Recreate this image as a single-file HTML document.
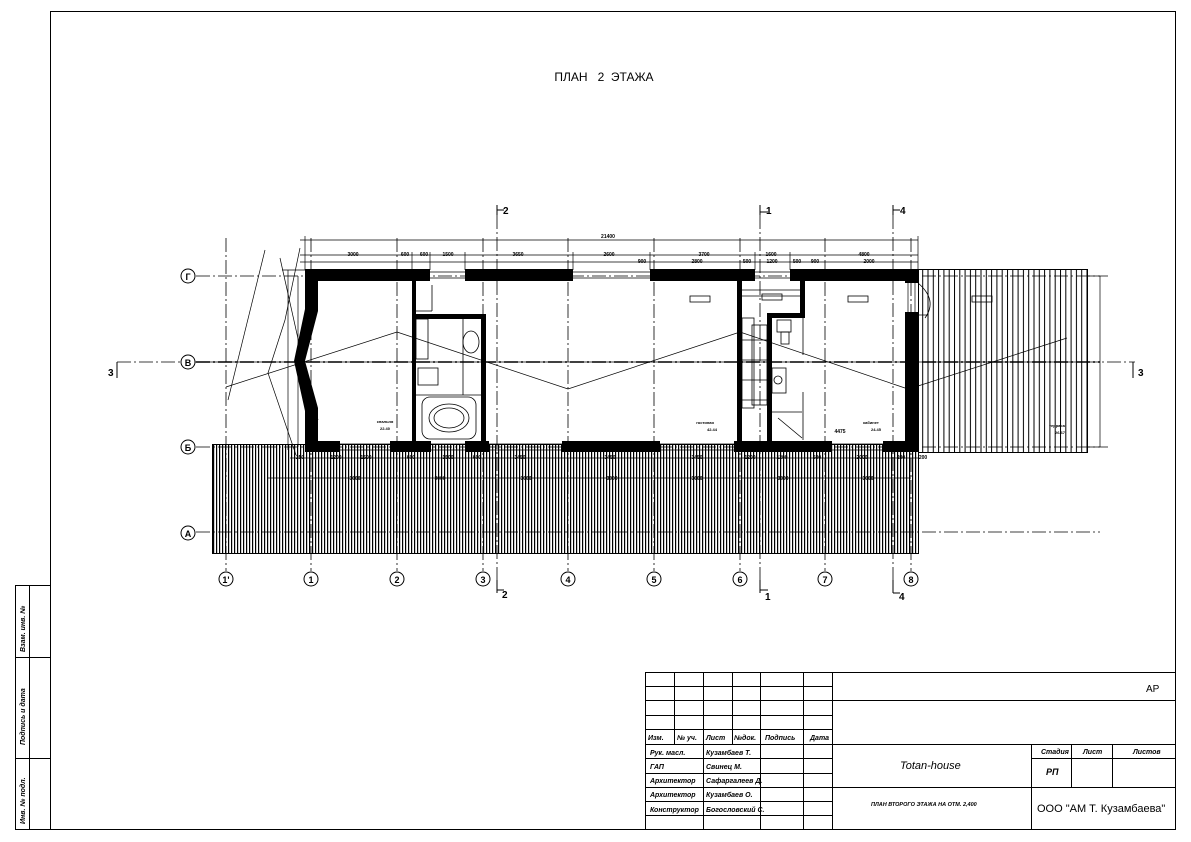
<!DOCTYPE html>
<html><head><meta charset="utf-8"><style>
html,body{margin:0;padding:0;background:#fff;}
svg{display:block;font-family:"Liberation Sans","Noto Sans CJK SC",sans-serif;}
</style></head><body>
<svg width="1191" height="842" viewBox="0 0 1191 842" xmlns="http://www.w3.org/2000/svg">
<defs>
<pattern id="h1" width="3" height="10" patternUnits="userSpaceOnUse"><rect x="0" y="0" width="1.2" height="10" fill="#000"/></pattern>
<pattern id="h2" width="5.3" height="10" patternUnits="userSpaceOnUse"><rect x="0" y="0" width="1" height="10" fill="#000"/></pattern>
</defs>
<rect width="1191" height="842" fill="#fff"/>
<!-- frame -->
<rect x="50.5" y="11.5" width="1125" height="818" fill="none" stroke="#000" stroke-width="1"/>
<!-- left strip -->
<g stroke="#000" fill="none">
<rect x="15.5" y="585.5" width="35" height="244"/>
<line x1="29.5" y1="585" x2="29.5" y2="829"/>
<line x1="15" y1="657.5" x2="50" y2="657.5"/>
<line x1="15" y1="758.5" x2="50" y2="758.5"/>
</g>
<g font-size="7" font-weight="bold" font-style="italic">
<text transform="translate(25,652) rotate(-90)">Взам. инв. №</text>
<text transform="translate(25,745) rotate(-90)">Подпись и дата</text>
<text transform="translate(25,824) rotate(-90)">Инв. № подл.</text>
</g>
<!-- title -->
<text x="604" y="81" font-size="12" text-anchor="middle">ПЛАН&#160;&#160; 2&#160; ЭТАЖА</text>

<!-- hatched deck -->
<rect x="212" y="444" width="706" height="109" fill="url(#h1)"/>
<rect x="212.5" y="444.5" width="706" height="109" fill="none" stroke="#000"/>
<!-- terrace -->
<rect x="918" y="269" width="169" height="183" fill="url(#h2)"/>
<rect x="918.5" y="269.5" width="169" height="183" fill="none" stroke="#000"/>

<!-- axis lines -->
<g stroke="#000" stroke-width="0.8" stroke-dasharray="14,3,2,3" fill="none">
<line x1="196" y1="276" x2="1100" y2="276"/>
<line x1="196" y1="362" x2="1100" y2="362"/>
<line x1="196" y1="447" x2="1100" y2="447"/>
<line x1="196" y1="532" x2="1100" y2="532"/>
<line x1="226" y1="238" x2="226" y2="571"/>
<line x1="311" y1="238" x2="311" y2="571"/>
<line x1="397" y1="238" x2="397" y2="571"/>
<line x1="483" y1="238" x2="483" y2="571"/>
<line x1="568" y1="238" x2="568" y2="571"/>
<line x1="654" y1="238" x2="654" y2="571"/>
<line x1="740" y1="238" x2="740" y2="571"/>
<line x1="825" y1="238" x2="825" y2="571"/>
<line x1="911" y1="238" x2="911" y2="571"/>
<line x1="497" y1="215" x2="497" y2="590"/>
<line x1="760" y1="215" x2="760" y2="590"/>
<line x1="893" y1="215" x2="893" y2="590"/>
<line x1="117" y1="362" x2="1135" y2="362"/>
</g>
<line x1="196" y1="362" x2="1100" y2="362" stroke="#000" stroke-width="1.5" stroke-dasharray="14,3,2,3"/>

<!-- dimension lines top -->
<g stroke="#000" stroke-width="0.7" fill="none">
<line x1="300" y1="240" x2="918" y2="240"/>
<line x1="300" y1="255" x2="918" y2="255"/>
<line x1="300" y1="262" x2="918" y2="262"/>
<line x1="305" y1="236" x2="305" y2="270"/>
<line x1="918" y1="236" x2="918" y2="270"/>
<line x1="430" y1="252" x2="430" y2="270"/>
<line x1="465" y1="252" x2="465" y2="270"/>
<line x1="573" y1="252" x2="573" y2="270"/>
<line x1="650" y1="252" x2="650" y2="270"/>
<line x1="755" y1="252" x2="755" y2="270"/>
<line x1="790" y1="252" x2="790" y2="270"/>
<line x1="412" y1="252" x2="412" y2="270"/>
<!-- bottom dims -->
<line x1="290" y1="458" x2="918" y2="458"/>
<line x1="268" y1="478" x2="911" y2="478"/>
<!-- right dims -->
<line x1="1100" y1="276" x2="1100" y2="447"/>
<line x1="1087" y1="276" x2="1108" y2="276"/>
<line x1="1087" y1="447" x2="1108" y2="447"/>
<!-- left dims -->
<line x1="288" y1="270" x2="288" y2="450"/>
<line x1="298" y1="276" x2="298" y2="447"/>
<line x1="282" y1="270" x2="305" y2="270"/>
<!-- roof lines -->
<polyline points="226,387 397,332 568,389 740,332 905,388"/>
<line x1="918" y1="386" x2="1067" y2="338"/>
<polyline points="300,248 285,320 268,373 296,455"/>
<polyline points="280,258 305,370 318,420"/>
<line x1="265" y1="250" x2="228" y2="400"/>
</g>
<g font-size="5" text-anchor="middle" font-weight="bold">
<text x="608" y="238">21400</text>
<text x="353" y="256">3000</text><text x="405" y="256">600</text><text x="424" y="256">600</text><text x="448" y="256">1500</text>
<text x="518" y="256">3650</text><text x="609" y="256">2600</text><text x="704" y="256">3700</text><text x="771" y="256">1600</text><text x="864" y="256">4800</text>
<text x="642" y="263">900</text><text x="697" y="263">2800</text><text x="747" y="263">500</text><text x="772" y="263">1200</text><text x="797" y="263">500</text><text x="815" y="263">900</text><text x="869" y="263">2000</text>
<text x="355" y="480">3000</text><text x="440" y="480">3000</text><text x="526" y="480">3000</text><text x="612" y="480">3000</text><text x="697" y="480">3000</text><text x="783" y="480">3000</text><text x="868" y="480">3000</text>
<text x="300" y="459">250</text><text x="336" y="459">1200</text><text x="366" y="459">1500</text><text x="411" y="459">600</text><text x="448" y="459">1500</text><text x="477" y="459">600</text><text x="520" y="459">3450</text><text x="610" y="459">3450</text><text x="697" y="459">3450</text><text x="750" y="459">1200</text><text x="782" y="459">1200</text><text x="817" y="459">500</text><text x="862" y="459">2000</text><text x="901" y="459">200</text><text x="923" y="459">200</text>
</g>

<!-- walls -->
<g fill="#000">
<rect x="305" y="269" width="125" height="12"/>
<rect x="465" y="269" width="108" height="12"/>
<rect x="650" y="269" width="105" height="12"/>
<rect x="790" y="269" width="128" height="12"/>
<rect x="905" y="269" width="13" height="14"/>
<rect x="905" y="312" width="13" height="140"/>
<rect x="305" y="441" width="35" height="11"/>
<rect x="390" y="441" width="41" height="11"/>
<rect x="465" y="441" width="24" height="11"/>
<rect x="562" y="441" width="98" height="11"/>
<rect x="734" y="441" width="98" height="11"/>
<rect x="883" y="441" width="35" height="11"/>
<polygon points="305,269 318,269 318,311 305,361 318,408 318,452 305,452 305,411 294,361 305,309"/>
<!-- bath walls -->
<rect x="412" y="281" width="4" height="160"/>
<rect x="412" y="314" width="74" height="5"/>
<rect x="481" y="314" width="5" height="127"/>
<!-- stair walls -->
<rect x="737" y="281" width="5" height="160"/>
<rect x="767" y="313" width="5" height="128"/>
<rect x="767" y="313" width="38" height="5"/>
<rect x="800" y="281" width="5" height="37"/>
</g>
<!-- windows thin lines -->
<g stroke="#000" stroke-width="0.7">
<line x1="430" y1="272" x2="465" y2="272"/><line x1="430" y1="278" x2="465" y2="278"/>
<line x1="573" y1="272" x2="650" y2="272"/><line x1="573" y1="278" x2="650" y2="278"/>
<line x1="755" y1="272" x2="790" y2="272"/><line x1="755" y1="278" x2="790" y2="278"/>
<line x1="340" y1="444" x2="390" y2="444"/><line x1="340" y1="450" x2="390" y2="450"/>
<line x1="431" y1="444" x2="465" y2="444"/><line x1="431" y1="450" x2="465" y2="450"/>
<line x1="489" y1="444" x2="562" y2="444"/><line x1="489" y1="450" x2="562" y2="450"/>
<line x1="660" y1="444" x2="734" y2="444"/><line x1="660" y1="450" x2="734" y2="450"/>
<line x1="832" y1="444" x2="883" y2="444"/><line x1="832" y1="450" x2="883" y2="450"/>
<line x1="908" y1="283" x2="908" y2="312"/><line x1="915" y1="283" x2="915" y2="312"/>
</g>
<!-- interior fixtures -->
<g stroke="#000" stroke-width="0.8" fill="none">
<rect x="416" y="319" width="12" height="40"/>
<line x1="416" y1="395" x2="481" y2="395"/>
<line x1="463" y1="319" x2="463" y2="395"/>
<ellipse cx="471" cy="342" rx="8" ry="11"/>
<rect x="418" y="368" width="20" height="17"/>
<rect x="422" y="397" width="54" height="42" rx="8"/>
<ellipse cx="449" cy="418" rx="20" ry="14"/>
<ellipse cx="449" cy="418" rx="15" ry="10"/>
<line x1="416" y1="311" x2="432" y2="311"/><line x1="432" y1="285" x2="432" y2="311"/>
<!-- stairs -->
<rect x="742" y="318" width="12" height="90"/>
<rect x="752" y="325" width="15" height="80"/>
<line x1="742" y1="340" x2="767" y2="340"/><line x1="742" y1="360" x2="767" y2="360"/><line x1="742" y1="380" x2="767" y2="380"/><line x1="742" y1="400" x2="767" y2="400"/>
<rect x="777" y="320" width="14" height="12"/><rect x="781" y="332" width="8" height="12"/>
<rect x="772" y="368" width="14" height="25"/>
<circle cx="778" cy="380" r="4"/>
<line x1="772" y1="412" x2="802" y2="412"/>
<line x1="778" y1="418" x2="802" y2="438"/>
<line x1="803" y1="318" x2="803" y2="355"/>
<line x1="803" y1="392" x2="803" y2="440"/>
<line x1="742" y1="290" x2="800" y2="290"/><line x1="742" y1="296" x2="800" y2="296"/>
<line x1="905" y1="315" x2="928" y2="315"/>
<path d="M918,283 Q938,300 925,318"/>
</g>
<!-- level marks -->
<g stroke="#000" stroke-width="0.8" fill="none">
<rect x="690" y="296" width="20" height="6"/>
<rect x="762" y="294" width="20" height="6"/>
<rect x="848" y="296" width="20" height="6"/>
<rect x="972" y="296" width="20" height="6"/>
</g>
<g font-size="4" font-weight="bold" text-anchor="middle">
<text x="385" y="423">спальня</text><text x="385" y="430">22.40</text>
<text x="705" y="424">гостиная</text><text x="712" y="431">42.44</text>
<text x="871" y="424">кабинет</text><text x="876" y="431">24.45</text>
<text x="1057" y="427">терраса</text><text x="1060" y="434">26.67</text>
<text x="840" y="433" font-size="5">4475</text>
</g>
<!-- section marks -->
<g stroke="#000" stroke-width="1" fill="none">
<line x1="497" y1="205" x2="497" y2="215"/><line x1="497" y1="210" x2="504" y2="210"/>
<line x1="760" y1="205" x2="760" y2="215"/><line x1="760" y1="212" x2="768" y2="212"/>
<line x1="893" y1="205" x2="893" y2="215"/><line x1="893" y1="210" x2="900" y2="210"/>
<line x1="497" y1="580" x2="497" y2="593"/><line x1="497" y1="590" x2="504" y2="590"/>
<line x1="760" y1="580" x2="760" y2="593"/><line x1="760" y1="590" x2="768" y2="590"/>
<line x1="893" y1="580" x2="893" y2="593"/><line x1="893" y1="593" x2="900" y2="593"/>
<line x1="117" y1="362" x2="117" y2="378"/><line x1="1133" y1="362" x2="1133" y2="378"/>
</g>
<g font-size="10" font-weight="bold">
<text x="503" y="214">2</text><text x="766" y="214">1</text><text x="900" y="214">4</text>
<text x="502" y="598">2</text><text x="765" y="600">1</text><text x="899" y="600">4</text>
<text x="108" y="376">3</text><text x="1138" y="376">3</text>
</g>
<!-- axis bubbles -->
<g stroke="#000" stroke-width="1" fill="#fff">
<circle cx="188" cy="276" r="7"/><circle cx="188" cy="362" r="7"/><circle cx="188" cy="447" r="7"/><circle cx="188" cy="533" r="7"/>
<circle cx="226" cy="579" r="7"/><circle cx="311" cy="579" r="7"/><circle cx="397" cy="579" r="7"/><circle cx="483" cy="579" r="7"/><circle cx="568" cy="579" r="7"/><circle cx="654" cy="579" r="7"/><circle cx="740" cy="579" r="7"/><circle cx="825" cy="579" r="7"/><circle cx="911" cy="579" r="7"/>
</g>
<g font-size="9" font-weight="bold" text-anchor="middle">
<text x="188" y="280">Г</text><text x="188" y="366">В</text><text x="188" y="451">Б</text><text x="188" y="537">А</text>
<text x="226" y="583">1'</text><text x="311" y="583">1</text><text x="397" y="583">2</text><text x="483" y="583">3</text><text x="568" y="583">4</text><text x="654" y="583">5</text><text x="740" y="583">6</text><text x="825" y="583">7</text><text x="911" y="583">8</text>
</g>

<!-- title block -->
<g stroke="#000" stroke-width="1" fill="none">
<rect x="645.5" y="672.5" width="530" height="157"/>
<line x1="832.5" y1="672" x2="832.5" y2="829"/>
<line x1="674.5" y1="672" x2="674.5" y2="744"/>
<line x1="703.5" y1="672" x2="703.5" y2="829"/>
<line x1="732.5" y1="672" x2="732.5" y2="744"/>
<line x1="760.5" y1="672" x2="760.5" y2="829"/>
<line x1="803.5" y1="672" x2="803.5" y2="829"/>
<line x1="645" y1="686.5" x2="832" y2="686.5"/>
<line x1="645" y1="700.5" x2="1176" y2="700.5"/>
<line x1="645" y1="715.5" x2="832" y2="715.5"/>
<line x1="645" y1="729.5" x2="832" y2="729.5"/>
<line x1="645" y1="744.5" x2="1176" y2="744.5"/>
<line x1="645" y1="758.5" x2="832" y2="758.5"/>
<line x1="645" y1="773.5" x2="832" y2="773.5"/>
<line x1="645" y1="787.5" x2="1176" y2="787.5"/>
<line x1="645" y1="801.5" x2="832" y2="801.5"/>
<line x1="645" y1="815.5" x2="832" y2="815.5"/>
<line x1="1031.5" y1="744" x2="1031.5" y2="829"/>
<line x1="1071.5" y1="744" x2="1071.5" y2="787"/>
<line x1="1112.5" y1="744" x2="1112.5" y2="787"/>
<line x1="1031" y1="758.5" x2="1176" y2="758.5"/>
</g>
<g font-size="7" font-weight="bold" font-style="italic">
<text x="648" y="740">Изм.</text><text x="677" y="740">№ уч.</text><text x="706" y="740">Лист</text><text x="734" y="740">№док.</text><text x="765" y="740">Подпись</text><text x="810" y="740">Дата</text>
<text x="650" y="755">Рук. масл.</text><text x="706" y="755">Кузамбаев Т.</text>
<text x="650" y="769">ГАП</text><text x="706" y="769">Свинец М.</text>
<text x="650" y="783">Архитектор</text><text x="706" y="783">Сафаргалеев Д.</text>
<text x="650" y="797">Архитектор</text><text x="706" y="797">Кузамбаев О.</text>
<text x="650" y="812">Конструктор</text><text x="706" y="812">Богословский С.</text>
<text x="1041" y="754">Стадия</text><text x="1083" y="754">Лист</text><text x="1133" y="754">Листов</text>
<text x="1046" y="775" font-size="9">РП</text>
<text x="871" y="806" font-size="5.5">ПЛАН ВТОРОГО ЭТАЖА НА ОТМ. 2,400</text>
</g>
<text x="1146" y="692" font-size="10">АР</text>
<text x="900" y="769" font-size="11" font-style="italic">Totan-house</text>
<text x="1037" y="812" font-size="11">ООО "АМ Т. Кузамбаева"</text>
</svg>
</body></html>
